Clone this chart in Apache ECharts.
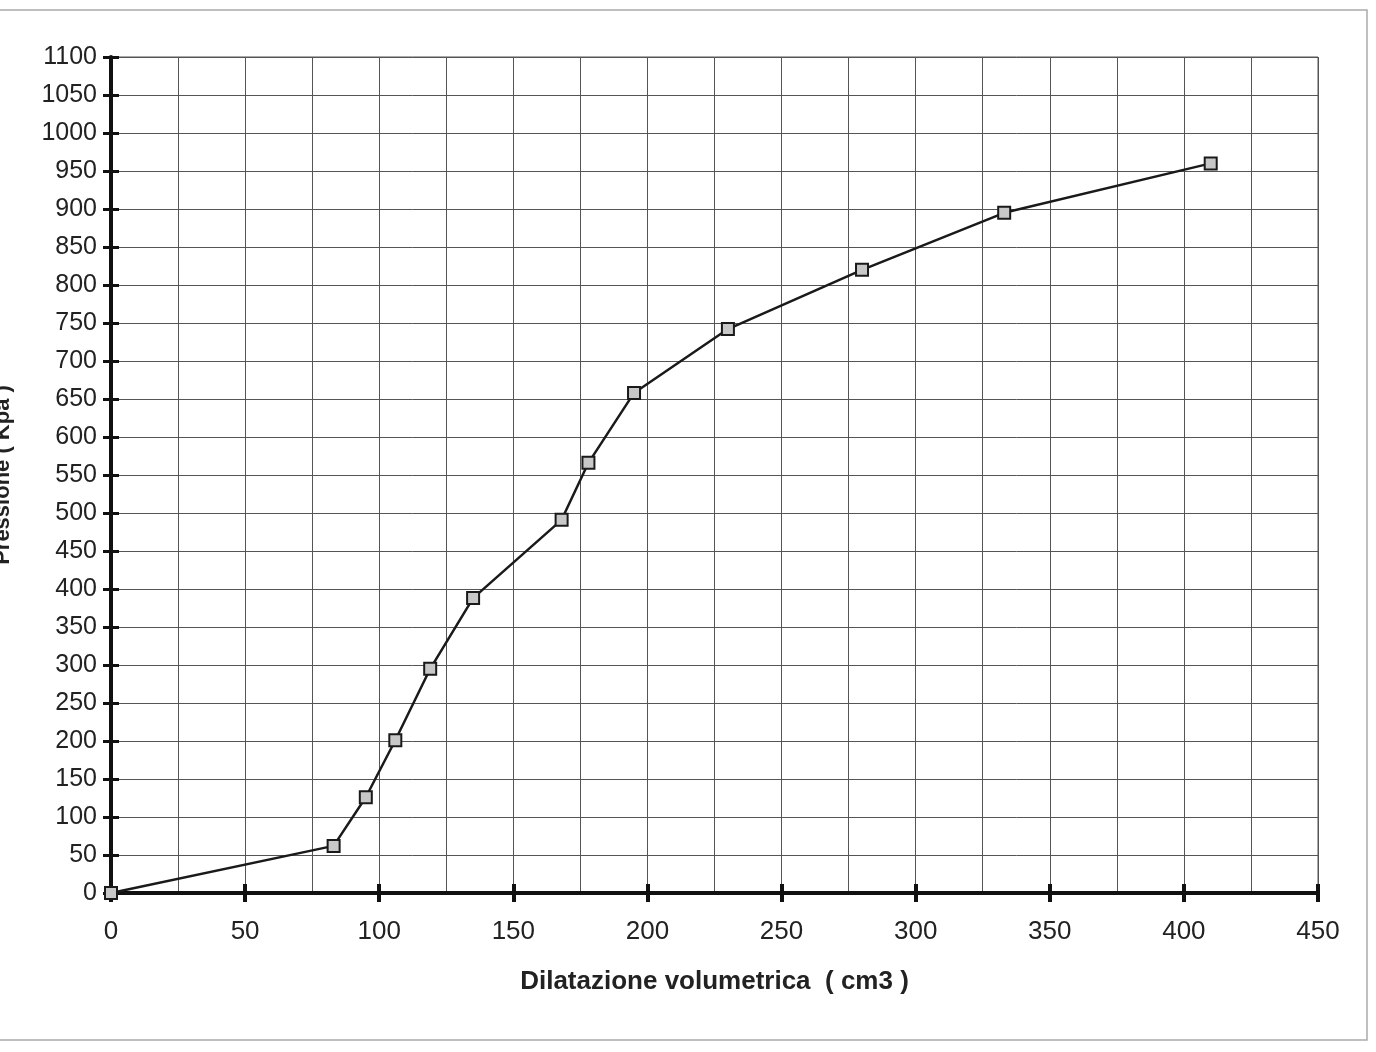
<!DOCTYPE html>
<html>
<head>
<meta charset="utf-8">
<script src="https://cdn.jsdelivr.net/npm/echarts@6/dist/echarts.min.js"></script>
<style>html,body{margin:0;padding:0;background:#fff}#c{width:1376px;height:1052px}</style>
</head>
<body>
<div id="c"></div>
<script>
const dilatazione = [0, 83, 95, 106, 119, 135, 168, 178, 195, 230, 280, 333, 410];
const pressione   = [0, 62, 126, 201, 295, 388, 491, 566, 658, 742, 820, 895, 960];
const xTitle = 'Dilatazione volumetrica  ( cm3 )';
const yTitle = 'Pressione ( Kpa )';

const points = dilatazione.map((x, i) => [x, pressione[i]]);
const chart = echarts.init(document.getElementById('c'));
const font = 'Liberation Sans, Arial, sans-serif';
const gridLine = {show: true, lineStyle: {color: '#555', width: 1}};
const plain = v => String(v);
chart.setOption({
  animation: false,
  backgroundColor: '#fff',
  graphic: [{
    type: 'rect', shape: {x: -5, y: 10, width: 1372, height: 1030},
    style: {fill: 'none', stroke: '#aaa', lineWidth: 1.5}
  }],
  grid: {left: 111, right: 58, top: 57, bottom: 159, show: true, borderColor: '#555', borderWidth: 1,
         containLabel: false, outerBoundsMode: 'none'},
  xAxis: [{
    type: 'value', min: 0, max: 450, interval: 50,
    name: xTitle, nameLocation: 'middle', nameGap: 76,
    nameTextStyle: {fontFamily: font, fontSize: 26, fontWeight: 'bold', color: '#222'},
    axisLine: {show: true, onZero: false, lineStyle: {color: '#111', width: 4}},
    axisTick: {show: true, length: 9, lineStyle: {color: '#111', width: 4}},
    axisLabel: {fontFamily: font, fontSize: 26, color: '#222', margin: 26, formatter: plain},
    splitLine: gridLine,
    minorTick: {show: false, splitNumber: 2},
    minorSplitLine: {show: true, lineStyle: {color: '#555', width: 1}}
  }, {
    type: 'value', min: 0, max: 450, interval: 50, position: 'bottom',
    axisLine: {show: false}, axisLabel: {show: false}, splitLine: {show: false},
    axisTick: {show: true, inside: true, length: 9, lineStyle: {color: '#111', width: 4}}
  }],
  yAxis: [{
    type: 'value', min: 0, max: 1100, interval: 50,
    name: yTitle, nameLocation: 'middle', nameGap: 97,
    nameTextStyle: {fontFamily: font, fontSize: 22, fontWeight: 'bold', color: '#222'},
    axisLine: {show: true, onZero: false, lineStyle: {color: '#111', width: 4}},
    axisTick: {show: true, length: 8, lineStyle: {color: '#111', width: 3}},
    axisLabel: {fontFamily: font, fontSize: 25, color: '#222', margin: 14, formatter: plain},
    splitLine: gridLine
  }, {
    type: 'value', min: 0, max: 1100, interval: 50, position: 'left',
    axisLine: {show: false}, axisLabel: {show: false}, splitLine: {show: false},
    axisTick: {show: true, inside: true, length: 8, lineStyle: {color: '#111', width: 3}}
  }],
  series: [{
    type: 'line', data: points, xAxisIndex: 0, yAxisIndex: 0,
    symbol: 'rect', symbolSize: 12, showAllSymbol: true,
    lineStyle: {color: '#1a1a1a', width: 2.5},
    itemStyle: {color: '#c8c8c8', borderColor: '#1a1a1a', borderWidth: 2},
    z: 5
  }]
});
</script>
</body>
</html>
